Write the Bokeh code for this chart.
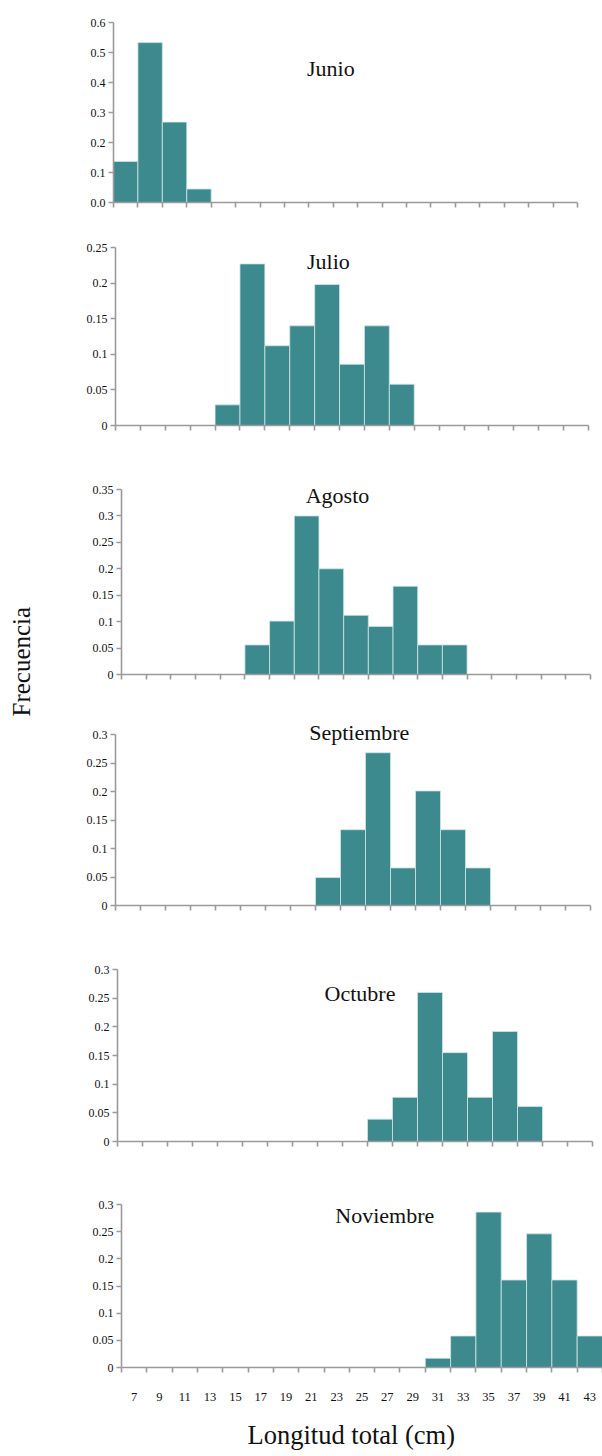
from bokeh.plotting import figure
from bokeh.models import (Range1d, FixedTicker, CustomJSTickFormatter, Label,
                          Title, LinearAxis, CustomLabelingPolicy)
from bokeh.embed import file_html
from bokeh.resources import INLINE

# Length classes (cm), centre of each 2-cm bin; these are the x tick labels
bins = [7, 9, 11, 13, 15, 17, 19, 21, 23, 25, 27, 29, 31, 33, 35, 37, 39, 41, 43]

# Relative frequency per month
junio_x = [7, 9, 11, 13]
junio_f = [0.137, 0.533, 0.268, 0.045]

julio_x = [15, 17, 19, 21, 23, 25, 27, 29]
julio_f = [0.029, 0.227, 0.112, 0.140, 0.198, 0.086, 0.140, 0.058]

agosto_x = [17, 19, 21, 23, 25, 27, 29, 31, 33]
agosto_f = [0.056, 0.101, 0.300, 0.200, 0.112, 0.091, 0.167, 0.056, 0.056]

septiembre_x = [23, 25, 27, 29, 31, 33, 35]
septiembre_f = [0.049, 0.133, 0.268, 0.066, 0.201, 0.133, 0.066]

octubre_x = [27, 29, 31, 33, 35, 37, 39]
octubre_f = [0.039, 0.077, 0.260, 0.155, 0.077, 0.192, 0.061]

noviembre_x = [31, 33, 35, 37, 39, 41, 43]
noviembre_f = [0.017, 0.058, 0.286, 0.161, 0.246, 0.161, 0.058]

# y tick values per panel
yticks_junio = [0.0, 0.1, 0.2, 0.3, 0.4, 0.5, 0.6]
yticks_julio = [0, 0.05, 0.1, 0.15, 0.2, 0.25]
yticks_agosto = [0, 0.05, 0.1, 0.15, 0.2, 0.25, 0.3, 0.35]
yticks_03 = [0, 0.05, 0.1, 0.15, 0.2, 0.25, 0.3]

W = 602
SERIF = "Liberation Serif"
BAR = "#3d8a8e"
AXIS = "#9a9a9a"
INK = "#111111"

edges = [b - 1 for b in bins] + [bins[-1] + 1]


def panel(name, xs, fs, yticks, decimals, box, title_xy, headroom=0, last=False):
    # box: frame left/right, y of top tick, frame bottom, figure top/bottom (px)
    fl, fr, ft, fb, gt, gb = box
    ytop = yticks[-1]
    y_end = ytop + headroom * ytop / (fb - ft)
    frame_top = ft - headroom
    p = figure(
        frame_width=fr - fl, frame_height=fb - frame_top,
        min_border_left=fl, min_border_right=W - fr,
        min_border_top=frame_top - gt, min_border_bottom=gb - fb,
        x_range=Range1d(edges[0], edges[-1]),
        y_range=Range1d(0, y_end),
        output_backend="svg", toolbar_location=None, tools="",
    )
    p.outline_line_color = None
    p.xgrid.visible = False
    p.ygrid.visible = False
    p.background_fill_color = "white"
    p.border_fill_color = "white"

    p.vbar(x=xs, top=fs, width=2, bottom=0,
           fill_color=BAR, line_color="#cfe6e6", line_width=0.8)

    xa = p.xaxis[0]
    xa.axis_line_color = AXIS
    xa.axis_line_width = 1.6
    xa.major_tick_out = 0
    xa.major_tick_in = 0
    xa.minor_tick_out = 5
    xa.minor_tick_in = 0
    xa.minor_tick_line_color = AXIS
    xa.minor_tick_line_width = 1.6
    if last:
        xa.ticker = FixedTicker(ticks=bins, minor_ticks=edges)
        xa.major_label_text_font = SERIF
        xa.major_label_text_color = INK
        xa.major_label_text_font_size = "12.5px"
        xa.major_label_standoff = 20
    else:
        # bin-edge ticks only, no labels
        xa.ticker = FixedTicker(ticks=[], minor_ticks=edges)

    ya = p.yaxis[0]
    ya.bounds = (0, ytop)
    ya.ticker = FixedTicker(ticks=yticks, minor_ticks=[])
    ya.formatter = CustomJSTickFormatter(
        args=dict(d=decimals),
        code="""
        let s = tick.toFixed(d);
        if (d > 1) { s = s.replace(/0+$/, '').replace(/\\.$/, ''); }
        return s;
        """)
    ya.axis_line_color = AXIS
    ya.axis_line_width = 1.6
    ya.major_tick_out = 5
    ya.major_tick_in = 0
    ya.major_tick_line_color = AXIS
    ya.major_tick_line_width = 1.6
    ya.minor_tick_out = 0
    ya.minor_tick_in = 0
    ya.major_label_text_font = SERIF
    ya.major_label_text_font_size = "12px"
    ya.major_label_text_color = INK
    ya.major_label_standoff = 3

    tx, ty = title_xy
    p.add_layout(Label(x=tx, y=ty, text=name, text_font=SERIF,
                       text_font_size="22px", text_color=INK,
                       text_align="center", text_baseline="middle"))
    return p


p1 = panel("Junio", junio_x, junio_f, yticks_junio, 1,
           (113, 577, 22, 202, 0, 228), (23.8, 0.447))
p2 = panel("Julio", julio_x, julio_f, yticks_julio, 2,
           (115, 588, 247, 425, 228, 462), (23.1, 0.231))
p3 = panel("Agosto", agosto_x, agosto_f, yticks_agosto, 2,
           (121, 590, 489, 674, 462, 718), (23.5, 0.339), headroom=10)
p4 = panel("Septiembre", septiembre_x, septiembre_f, yticks_03, 2,
           (115, 590, 734, 905, 718, 950), (25.5, 0.304), headroom=16)
p5 = panel("Octubre", octubre_x, octubre_f, yticks_03, 2,
           (117, 592, 969, 1141, 950, 1185), (25.4, 0.258))
p6 = panel("Noviembre", noviembre_x, noviembre_f, yticks_03, 2,
           (121, 602, 1204, 1367, 1185, 1456), (26.8, 0.280), last=True)

# blank gap between the Agosto y axis and the shared y title:
# one transparent tick whose label is never drawn
hide_all = CustomLabelingPolicy(code="""
    try { for (const i of Array.from(indices)) indices.unset(i) } catch (e) {}
    return indices
""")
gap_axis = LinearAxis(
    ticker=FixedTicker(ticks=[0.1], minor_ticks=[]),
    major_label_policy=hide_all, major_label_standoff=0,
    major_label_text_font_size="1px",
    axis_line_alpha=0, major_tick_line_alpha=0, minor_tick_line_alpha=0,
    major_tick_out=46, major_tick_in=0, minor_tick_out=0, minor_tick_in=0)
p3.add_layout(gap_axis, "left")

# shared y-axis title, low beside the Agosto panel
p3.add_layout(Title(text="Frecuencia", align="left", offset=-42, standoff=10,
                    text_font=SERIF, text_font_size="25px",
                    text_font_style="normal", text_color=INK), "left")

# x-axis title under the bottom panel
p6.add_layout(Title(text="Longitud total (cm)", align="left", offset=126,
                    standoff=28, text_font=SERIF, text_font_size="26.5px",
                    text_font_style="normal", text_color=INK), "below")

open("out.html", "w").write(file_html([p1, p2, p3, p4, p5, p6], INLINE))
